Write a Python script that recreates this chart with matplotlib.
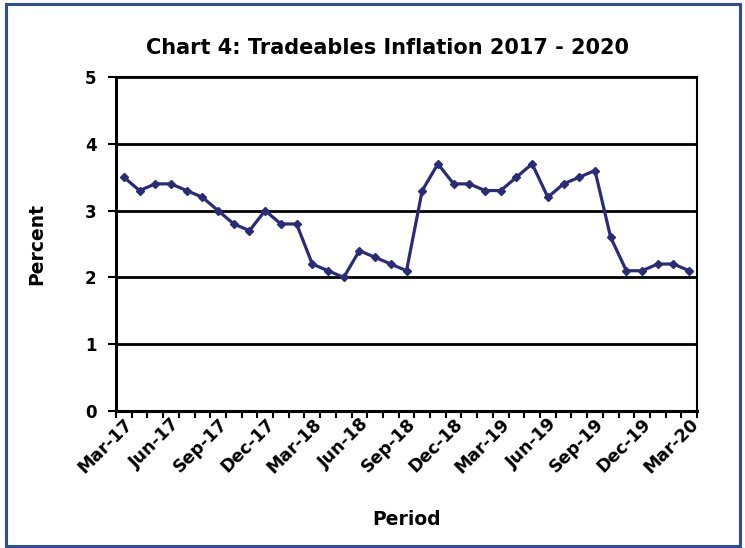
import matplotlib
matplotlib.use("Agg")
import matplotlib.pyplot as plt
from matplotlib.patches import Rectangle

periods = ["Mar-17", "Apr-17", "May-17", "Jun-17", "Jul-17", "Aug-17", "Sep-17", "Oct-17", "Nov-17",
           "Dec-17", "Jan-18", "Feb-18", "Mar-18", "Apr-18", "May-18", "Jun-18", "Jul-18", "Aug-18",
           "Sep-18", "Oct-18", "Nov-18", "Dec-18", "Jan-19", "Feb-19", "Mar-19", "Apr-19", "May-19",
           "Jun-19", "Jul-19", "Aug-19", "Sep-19", "Oct-19", "Nov-19", "Dec-19", "Jan-20", "Feb-20",
           "Mar-20"]
inflation = [3.5, 3.3, 3.4, 3.4, 3.3, 3.2, 3.0, 2.8, 2.7, 3.0, 2.8, 2.8, 2.2, 2.1, 2.0, 2.4, 2.3, 2.2,
             2.1, 3.3, 3.7, 3.4, 3.4, 3.3, 3.3, 3.5, 3.7, 3.2, 3.4, 3.5, 3.6, 2.6, 2.1, 2.1, 2.2, 2.2,
             2.1]
y_ticks = [0, 1, 2, 3, 4, 5]

plt.rcParams['font.family'] = ['DejaVu Sans']
plt.rcParams['font.weight'] = 'bold'

fig = plt.figure(figsize=(7.45, 5.48), dpi=100)
fig.patches.append(Rectangle((0.008, 0.004), 0.985, 0.989, transform=fig.transFigure,
                             fill=False, edgecolor='#2E4C9A', linewidth=2.2))

ax = fig.add_axes([0.1557, 0.25, 0.7799, 0.6095])
x = list(range(len(periods)))
ax.plot(x, inflation, color='#2B2B78', linewidth=2.3, marker='D', markersize=3.8,
        markerfacecolor='#2B2B78', markeredgecolor='#2B2B78')

ax.set_xlim(-0.5, len(periods) - 0.5)
ax.set_ylim(0, 5)
ax.set_yticks(y_ticks)
ax.set_yticklabels([str(v) for v in y_ticks], fontsize=12, fontweight='bold')
ax.yaxis.grid(True, color='black', linewidth=2)
ax.set_axisbelow(True)

ax.set_xticks([i - 0.5 for i in range(len(periods) + 1)])
ax.set_xticklabels([])
ax.set_xticks(x[::3], minor=True)
ax.set_xticklabels([periods[i] for i in x[::3]], minor=True, rotation=45, ha='right', va='top',
                   rotation_mode='anchor', fontsize=12.5, fontweight='bold')
ax.tick_params(axis='x', which='major', length=5, width=1.5, direction='out')
ax.tick_params(axis='x', which='minor', length=0, pad=3)
ax.tick_params(axis='y', length=6, width=1.5, direction='out', pad=8)

for s in ['left', 'bottom']:
    ax.spines[s].set_linewidth(2.2)
for s in ['top', 'right']:
    ax.spines[s].set_linewidth(1.5)

fig.text(387 / 745, 1 - 48 / 548, "Chart 4: Tradeables Inflation 2017 - 2020", fontsize=15,
         fontweight='bold', ha='center', va='center')
ax.set_ylabel("Percent", fontsize=13.5, fontweight='bold', labelpad=28)
ax.set_xlabel("Period", fontsize=13.5, fontweight='bold', labelpad=24)

fig.savefig("out.png", dpi=100)
